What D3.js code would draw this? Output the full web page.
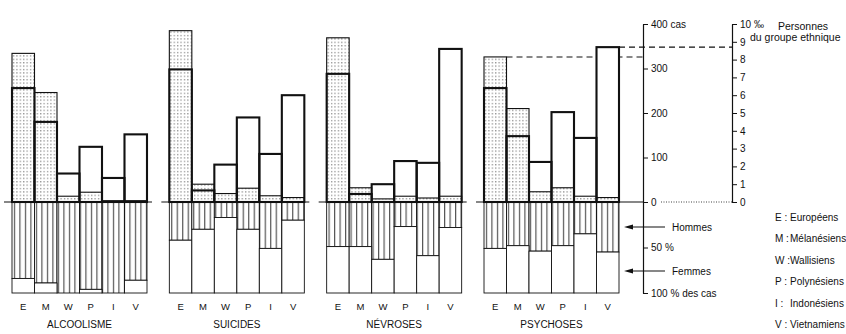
<!DOCTYPE html>
<html>
<head>
<meta charset="utf-8">
<script src="https://cdn.jsdelivr.net/npm/d3@7"></script>
<style>
  body { margin: 0; background: #fff; }
  svg { display: block; font-family: "Liberation Sans", Arial, sans-serif; }
  text { fill: #111; }
</style>
</head>
<body>
<div id="chart"></div>
<script>
// Groups and panels
const groups = ['E', 'M', 'W', 'P', 'I', 'V'];
const panels = ['ALCOOLISME', 'SUICIDES', 'NÉVROSES', 'PSYCHOSES'];
const legendNames = ['Européens', 'Mélanésiens', 'Wallisiens', 'Polynésiens', 'Indonésiens', 'Vietnamiens'];

// Number of cases (dotted bars), one row per panel
const casCounts = [
    [334, 246, 13, 22, 3, 3],
    [385, 40, 19, 31, 14, 10],
    [369, 32, 7, 13, 9, 13],
    [326, 210, 23, 32, 13, 10]
];
// Rate per thousand persons of the group (thick outlined bars)
const tauxPourMille = [
    [6.4, 4.5, 1.6, 3.1, 1.35, 3.8],
    [7.45, 0.65, 2.1, 4.75, 2.7, 6.0],
    [7.2, 0.45, 1.0, 2.3, 2.2, 8.6],
    [6.4, 3.7, 2.25, 5.05, 3.6, 8.7]
];
// Share of men among the cases (%)
const pctHommes = [
    [84, 89, 100, 96, 100, 86],
    [42, 30, 17, 30, 51, 20],
    [49, 49, 63, 27, 59, 28],
    [51, 48, 54, 48, 35, 55]
];

const casTicks = [0, 100, 200, 300, 400];
const rateTicks = [0, 1, 2, 3, 4, 5, 6, 7, 8, 9, 10];
const pctTicks = [50, 100];

const width = 846, height = 334;
const ink = '#111';

const svg = d3.select('#chart').append('svg')
    .attr('width', width)
    .attr('height', height);

// Patterns
const defs = svg.append('defs');
const dots = defs.append('pattern')
    .attr('id', 'dots')
    .attr('patternUnits', 'userSpaceOnUse')
    .attr('width', 3.4).attr('height', 3.4);
dots.append('rect').attr('width', 3.4).attr('height', 3.4).attr('fill', '#fff');
dots.append('rect').attr('x', 1).attr('y', 1).attr('width', 1.1).attr('height', 1.1).attr('fill', '#666');

const hatch = defs.append('pattern')
    .attr('id', 'hatch')
    .attr('patternUnits', 'userSpaceOnUse')
    .attr('width', 5.5).attr('height', 10);
hatch.append('rect').attr('width', 5.5).attr('height', 10).attr('fill', '#fff');
hatch.append('line').attr('x1', 2.5).attr('x2', 2.5).attr('y1', 0).attr('y2', 10)
    .attr('stroke', ink).attr('stroke-width', 0.9);

// Scales
const xPanel = d3.scaleBand().domain(panels).range([12, 619]).paddingInner(0.142);
const xGroup = d3.scaleBand().domain(groups).range([0, xPanel.bandwidth()]);
const yCas = d3.scaleLinear().domain([0, 400]).range([202, 24]);
const yRate = d3.scaleLinear().domain([0, 10]).range([202, 24]);
const yPct = d3.scaleLinear().domain([0, 100]).range([202, 293]);

const casAxisX = 643;
const rateAxisX = 732;

// Dashed reading guides (psychoses: E cases, V rate)
const psy = panels.length - 1;
svg.append('line')
    .attr('x1', xPanel(panels[psy]) + xGroup('E') + xGroup.bandwidth())
    .attr('x2', casAxisX)
    .attr('y1', yCas(casCounts[psy][0])).attr('y2', yCas(casCounts[psy][0]))
    .attr('stroke', ink).attr('stroke-width', 1.1).attr('stroke-dasharray', '6,4');
svg.append('line')
    .attr('x1', xPanel(panels[psy]) + xGroup('V') + xGroup.bandwidth())
    .attr('x2', rateAxisX)
    .attr('y1', yRate(tauxPourMille[psy][5])).attr('y2', yRate(tauxPourMille[psy][5]))
    .attr('stroke', ink).attr('stroke-width', 1.1).attr('stroke-dasharray', '6,4');

// Panels
panels.forEach((p, pi) => {
    const g = svg.append('g').attr('transform', `translate(${xPanel(p)},0)`);
    const rows = groups.map((k, i) => ({
        k, cas: casCounts[pi][i], rate: tauxPourMille[pi][i], men: pctHommes[pi][i]
    }));
    const bw = xGroup.bandwidth();

    // Lower half: men (hatched) and women (white)
    g.selectAll('rect.men').data(rows).enter().append('rect')
        .attr('x', d => xGroup(d.k)).attr('width', bw)
        .attr('y', yPct(0)).attr('height', d => yPct(d.men) - yPct(0))
        .attr('fill', 'url(#hatch)').attr('stroke', ink).attr('stroke-width', 0.9);
    g.selectAll('rect.women').data(rows).enter().append('rect')
        .attr('x', d => xGroup(d.k)).attr('width', bw)
        .attr('y', d => yPct(d.men)).attr('height', d => yPct(100) - yPct(d.men))
        .attr('fill', '#fff').attr('stroke', ink).attr('stroke-width', 0.9);

    // Upper half: rate bars background, dotted case bars, thick rate outline
    g.selectAll('rect.rateBg').data(rows).enter().append('rect')
        .attr('x', d => xGroup(d.k)).attr('width', bw)
        .attr('y', d => yRate(d.rate)).attr('height', d => yRate(0) - yRate(d.rate))
        .attr('fill', '#fff');
    g.selectAll('rect.cas').data(rows).enter().append('rect')
        .attr('x', d => xGroup(d.k)).attr('width', bw)
        .attr('y', d => yCas(d.cas)).attr('height', d => yCas(0) - yCas(d.cas))
        .attr('fill', 'url(#dots)').attr('stroke', ink).attr('stroke-width', 1.1);
    g.selectAll('rect.rate').data(rows).enter().append('rect')
        .attr('x', d => xGroup(d.k)).attr('width', bw)
        .attr('y', d => yRate(d.rate)).attr('height', d => yRate(0) - yRate(d.rate))
        .attr('fill', 'none').attr('stroke', ink).attr('stroke-width', 2.1);

    // Baseline
    const x2 = pi === panels.length - 1 ? casAxisX - xPanel(p) : xPanel.bandwidth() + 5;
    g.append('line')
        .attr('x1', -8).attr('x2', x2)
        .attr('y1', yCas(0)).attr('y2', yCas(0))
        .attr('stroke', ink).attr('stroke-width', 1.2);

    // Group letters and title
    g.selectAll('text.grp').data(groups).enter().append('text')
        .attr('x', d => xGroup(d) + bw / 2).attr('y', 310)
        .attr('text-anchor', 'middle').attr('font-size', 9.5)
        .text(d => d);
    g.append('text')
        .attr('x', xPanel.bandwidth() / 2).attr('y', 328)
        .attr('text-anchor', 'middle').attr('font-size', 10)
        .text(p);
});

// Cases axis
const casAxis = svg.append('g').attr('transform', `translate(${casAxisX},0)`)
    .call(d3.axisRight(yCas).tickValues(casTicks).tickSize(5).tickSizeOuter(0).tickPadding(3)
        .tickFormat(d => d === 400 ? '400 cas' : d));
const pctAxis = svg.append('g').attr('transform', `translate(${casAxisX},0)`)
    .call(d3.axisRight(yPct).tickValues(pctTicks).tickSize(5).tickSizeOuter(0).tickPadding(3)
        .tickFormat(d => d === 100 ? '100 % des cas' : d + ' %'));
// Rate axis
const rateAxis = svg.append('g').attr('transform', `translate(${rateAxisX},0)`)
    .call(d3.axisRight(yRate).tickValues(rateTicks).tickSize(5).tickSizeOuter(0).tickPadding(3)
        .tickFormat(d => d === 10 ? '10 ‰' : d));

[casAxis, pctAxis, rateAxis].forEach(a => {
    a.select('.domain').attr('stroke', ink).attr('stroke-width', 1.2);
    a.selectAll('.tick line').attr('stroke', ink).attr('stroke-width', 1);
    a.selectAll('.tick text').attr('fill', ink).attr('font-size', 10)
        .attr('font-family', '"Liberation Sans", Arial, sans-serif');
});

// Dotted zero line between axes
svg.append('line')
    .attr('x1', casAxisX + 18).attr('x2', rateAxisX)
    .attr('y1', yCas(0)).attr('y2', yCas(0))
    .attr('stroke', ink).attr('stroke-width', 0.8).attr('stroke-dasharray', '1,1.5');

// Men / women arrows
const arrows = [{ label: 'Hommes', y: 227 }, { label: 'Femmes', y: 271 }];
arrows.forEach(a => {
    svg.append('line')
        .attr('x1', 630).attr('x2', 665).attr('y1', a.y).attr('y2', a.y)
        .attr('stroke', ink).attr('stroke-width', 1.1);
    svg.append('path')
        .attr('d', `M624,${a.y} L633,${a.y - 2.5} L633,${a.y + 2.5} Z`)
        .attr('fill', ink);
    svg.append('text')
        .attr('x', 672).attr('y', a.y + 3.5).attr('font-size', 10)
        .text(a.label);
});

// Rate axis caption
svg.append('text').attr('x', 803).attr('y', 30).attr('text-anchor', 'middle')
    .attr('font-size', 10.5).text('Personnes');
svg.append('text').attr('x', 750).attr('y', 41)
    .attr('font-size', 10.5).text('du groupe ethnique');

// Legend
const legend = svg.append('g').attr('transform', 'translate(775,0)');
groups.forEach((k, i) => {
    const y = 221 + i * 21.4;
    legend.append('text').attr('x', 0).attr('y', y).attr('font-size', 10).text(k + ' :');
    legend.append('text').attr('x', 15).attr('y', y).attr('font-size', 10).text(legendNames[i]);
});
</script>
</body>
</html>
